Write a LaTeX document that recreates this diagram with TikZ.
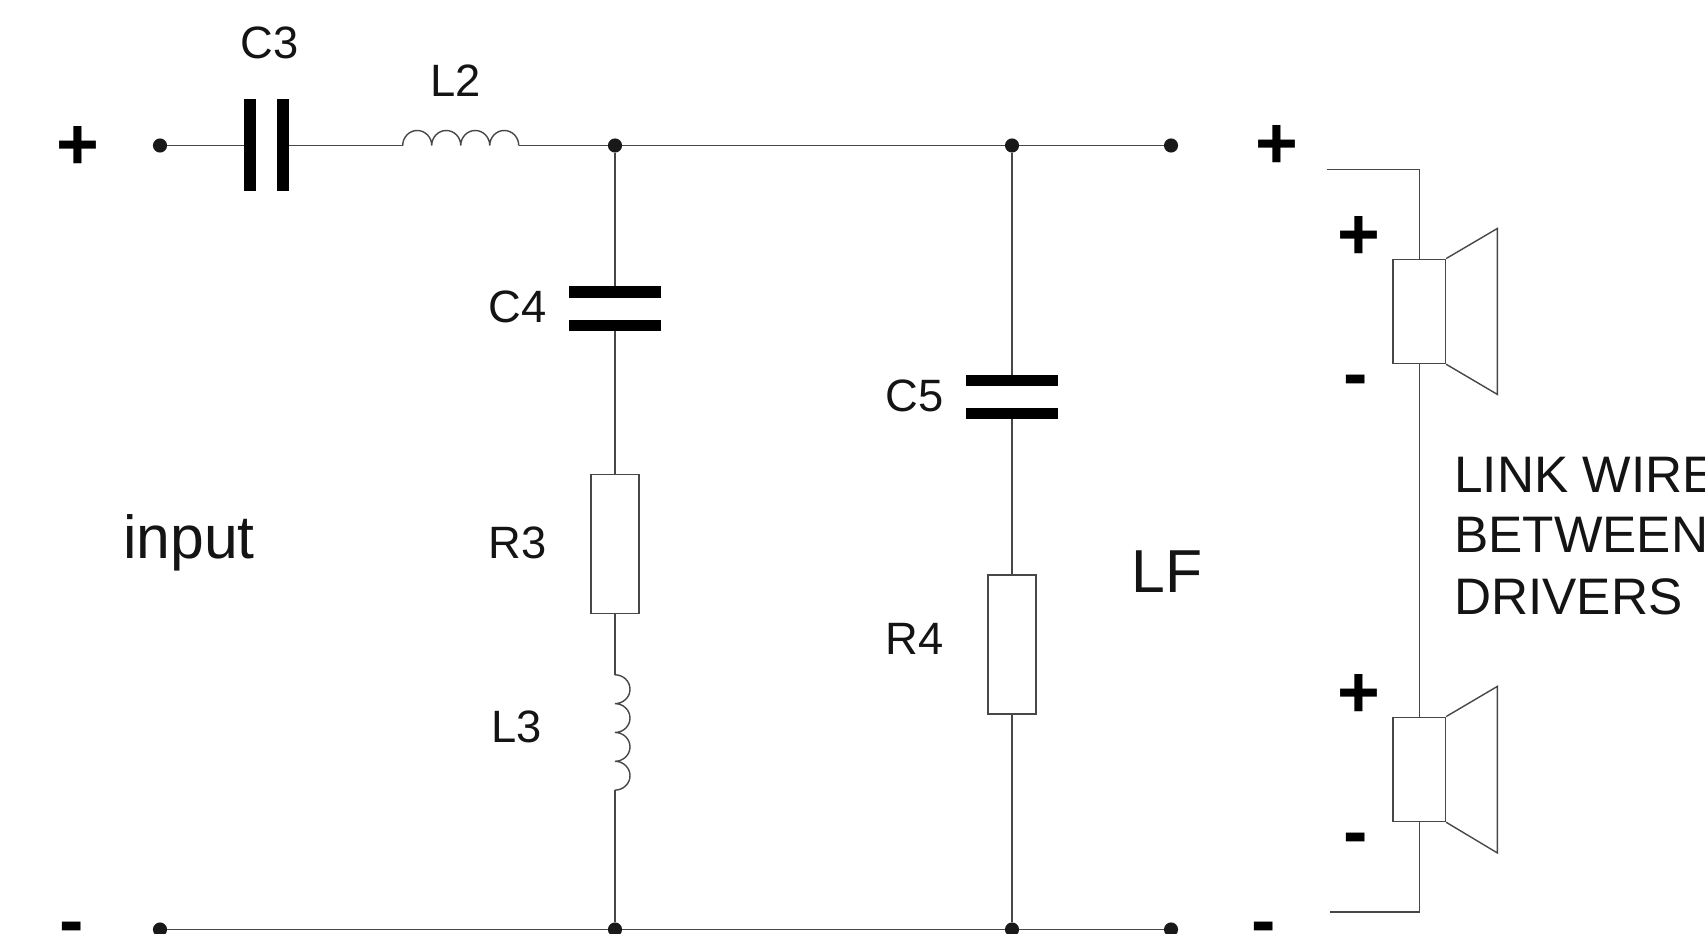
\documentclass[tikz,border=0pt]{standalone}
\usepackage{fontspec}
\setmainfont{Liberation Sans}
\tikzset{
  wire/.style={draw=black!72,line width=1.05pt},
  dotnode/.style={circle,fill=black!90,draw=none,inner sep=0pt,minimum size=10.6pt},
  platev/.style={rectangle,fill=black,draw=none,inner sep=0pt,minimum width=9pt,minimum height=69pt},
  plateh/.style={rectangle,fill=black,draw=none,inner sep=0pt,minimum width=69pt,minimum height=8.4pt},
  resbox/.style={rectangle,draw=black!72,line width=1.05pt,fill=white,inner sep=0pt,minimum width=36pt,minimum height=104.4pt},
  spkbox/.style={rectangle,draw=black!72,line width=1.05pt,inner sep=0pt,minimum width=39.2pt,minimum height=78.2pt},
  lbl/.style={anchor=base west,inner sep=0pt,text=black!92,font=\fontsize{34pt}{40pt}\selectfont},
  link/.style={anchor=base west,inner sep=0pt,text=black!92,font=\fontsize{38.5pt}{46pt}\selectfont},
  big/.style={anchor=base west,inner sep=0pt,text=black!92,font=\fontsize{45.5pt}{54pt}\selectfont},
  pol/.style={anchor=base,inner sep=0pt,text=black,font=\fontsize{55pt}{60pt}\selectfont\bfseries},
}
\begin{document}
\begin{tikzpicture}[x=0.75pt,y=-0.75pt]
\clip (0,0) rectangle (1705,934);
\fill[white] (0,0) rectangle (1705,934);
\begin{scope}[yshift=-0.6pt]
% junctions
\node[dotnode] (inp) at (160,144.7) {};
\node[dotnode] (j1) at (615,144.7) {};
\node[dotnode] (j2) at (1012,144.7) {};
\node[dotnode] (outp) at (1171,144.7) {};
\node[dotnode] (inn) at (160,928.7) {};
\node[dotnode] (j3) at (615,928.7) {};
\node[dotnode] (j4) at (1012,928.7) {};
\node[dotnode] (outn) at (1171,928.7) {};
% C3
\node[platev] (C3a) at (250,144.7) {};
\node[platev] (C3b) at (283,144.7) {};
% L2
\coordinate (L2a) at (402.7,144.7);
\coordinate (L2b) at (518.8,144.7);
% C4
\node[plateh] (C4a) at (615,291.2) {};
\node[plateh] (C4b) at (615,324.3) {};
% R3
\node[resbox] (R3) at (615,543.2) {};
% L3
\coordinate (L3a) at (615,674);
\coordinate (L3b) at (615,789.3);
% C5
\node[plateh] (C5a) at (1012,380) {};
\node[plateh] (C5b) at (1012,412.3) {};
% R4
\node[resbox] (R4) at (1012,643.6) {};
% speakers
\node[spkbox] (S1) at (1419.3,310.6) {};
\node[spkbox] (S2) at (1419.3,768.6) {};
\coordinate (tl) at (1326.7,168.6);
\coordinate (bl) at (1330,911);
\coordinate (S1t) at (1497.3,227.7);
\coordinate (S1d) at (1497.3,393.6);
\coordinate (S2t) at (1497.3,685.6);
\coordinate (S2d) at (1497.3,852.1);
% wires
\draw[wire] (inp) -- (C3a);
\draw[wire] (C3b) -- (L2a);
\draw[wire] (L2a)
  arc[start angle=180,end angle=0,x radius=10.88pt,y radius=11.25pt]
  arc[start angle=180,end angle=0,x radius=10.88pt,y radius=11.25pt]
  arc[start angle=180,end angle=0,x radius=10.88pt,y radius=11.25pt]
  arc[start angle=180,end angle=0,x radius=10.88pt,y radius=11.25pt];
\draw[wire] (L2b) -- (j1);
\draw[wire] (j1) -- (j2);
\draw[wire] (j2) -- (outp);
\draw[wire] (j1) -- (C4a);
\draw[wire] (C4b) -- (R3);
\draw[wire] (R3) -- (L3a);
\draw[wire] (L3a)
  arc[start angle=90,end angle=-90,x radius=11.25pt,y radius=10.81pt]
  arc[start angle=90,end angle=-90,x radius=11.25pt,y radius=10.81pt]
  arc[start angle=90,end angle=-90,x radius=11.25pt,y radius=10.81pt]
  arc[start angle=90,end angle=-90,x radius=11.25pt,y radius=10.81pt];
\draw[wire] (L3b) -- (j3);
\draw[wire] (j2) -- (C5a);
\draw[wire] (C5b) -- (R4);
\draw[wire] (R4) -- (j4);
\draw[wire] (inn) -- (j3);
\draw[wire] (j3) -- (j4);
\draw[wire] (j4) -- (outn);
\draw[wire] (tl) -| (S1.north);
\draw[wire] (S1.south) -- (S2.north);
\draw[wire] (S2.south) |- (bl);
\draw[wire] (S1.north east) -- (S1t) -- (S1d) -- (S1.south east);
\draw[wire] (S2.north east) -- (S2t) -- (S2d) -- (S2.south east);
\end{scope}
% labels
\node[lbl] (tC3) at (240,59) {C3};
\node[lbl] (tL2) at (430,97) {L2};
\node[lbl] (tC4) at (488,322.7) {C4};
\node[lbl] (tR3) at (488,558) {R3};
\node[lbl] (tL3) at (491,742) {L3};
\node[lbl] (tC5) at (885,411) {C5};
\node[lbl] (tR4) at (885,654.6) {R4};
\node[big] (tinput) at (123,558.8) {input};
\node[big] (tLF) at (1131,592.6) {LF};
\node[link] (tl1) at (1454,492.6) {LINK WIRE};
\node[link] (tl2) at (1454,552.5) {BETWEEN};
\node[link] (tl3) at (1454,614.8) {DRIVERS};
% polarity marks
\node[pol] (p1) at (77.5,169.5) {+};
\node[pol] (p2) at (1277,168.5) {+};
\node[pol] (p3) at (1359,259.5) {+};
\node[pol] (p4) at (1359,717.5) {+};
\node[pol] (m1) at (1355.7,398) {-};
\node[pol] (m2) at (1355.7,856) {-};
\node[pol] (m3) at (1263.4,945) {-};
\node[pol] (m4) at (72,945) {-};
\end{tikzpicture}
\end{document}
